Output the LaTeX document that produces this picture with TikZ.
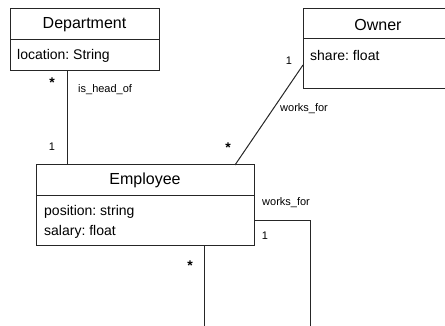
\documentclass[tikz,border=0pt]{standalone}
\usepackage{fontspec}
\setmainfont{Liberation Sans}
\frenchspacing
\begin{document}
\begin{tikzpicture}[x=1pt,y=-1pt,
  box/.style={draw=black!85,line width=1pt,anchor=north west,inner sep=0pt,outer sep=0pt},
  ttl/.style={font=\fontsize{16}{18}\selectfont,inner sep=0pt},
  attr/.style={font=\fontsize{14}{20}\selectfont,anchor=west,inner sep=0pt,align=left},
  lbl/.style={font=\fontsize{11}{13}\selectfont,inner sep=0pt},
  star/.style={font=\fontsize{14}{16}\selectfont\bfseries,inner sep=0pt},
  conn/.style={draw=black!85,line width=1pt}]
\useasboundingbox (0,0) rectangle (445,326);
\clip (0,0) rectangle (445,326);
% Department
\node[box,minimum width=149pt,minimum height=31pt] (depT) at (10,9) {};
\node[box,minimum width=149pt,minimum height=31pt] (depA) at (10,40) {};
\node[ttl] (depN) at (depT.center) {Department};
\node[attr] (depX) at (17,56) {location: String};
% Owner
\node[box,minimum width=150pt,minimum height=30pt] (ownT) at (303,9) {};
\node[box,minimum width=150pt,minimum height=50pt] (ownA) at (303,39) {};
\node[ttl] (ownN) at (378,25) {Owner};
\node[attr] (ownX) at (310,55) {share: float};
% Employee
\node[box,minimum width=218pt,minimum height=31pt] (empT) at (36,165) {};
\node[box,minimum width=218pt,minimum height=50pt] (empA) at (36,196) {};
\node[ttl] (empN) at (empT.center) {Employee};
\node[attr] (empX) at (44,222) {position: string\\salary: float};
% connectors
\coordinate (dB) at (67,71);
\coordinate (eT) at (67,165);
\draw[conn] (dB) -- (eT);
\coordinate (oL) at (303,65);
\coordinate (eT2) at (235,165);
\draw[conn] (oL) -- (eT2);
\coordinate (eR) at (254,221);
\coordinate (loopA) at (310,330);
\draw[conn] (eR) -| (loopA);
\coordinate (eB) at (204,246);
\coordinate (loopB) at (204,330);
\draw[conn] (eB) -- (loopB);
% labels
\node[star] (s1) at (52,83) {*};
\node[lbl,anchor=west] (l1) at (78,90) {is\_head\_of};
\node[lbl] (m1) at (52,147) {1};
\node[lbl] (m2) at (289,61) {1};
\node[lbl,anchor=west] (l2) at (280,109) {works\_for};
\node[star] (s2) at (228,148) {*};
\node[lbl,anchor=west] (l3) at (262,203) {works\_for};
\node[lbl] (m3) at (265,236) {1};
\node[star] (s3) at (190,266) {*};
\end{tikzpicture}
\end{document}
